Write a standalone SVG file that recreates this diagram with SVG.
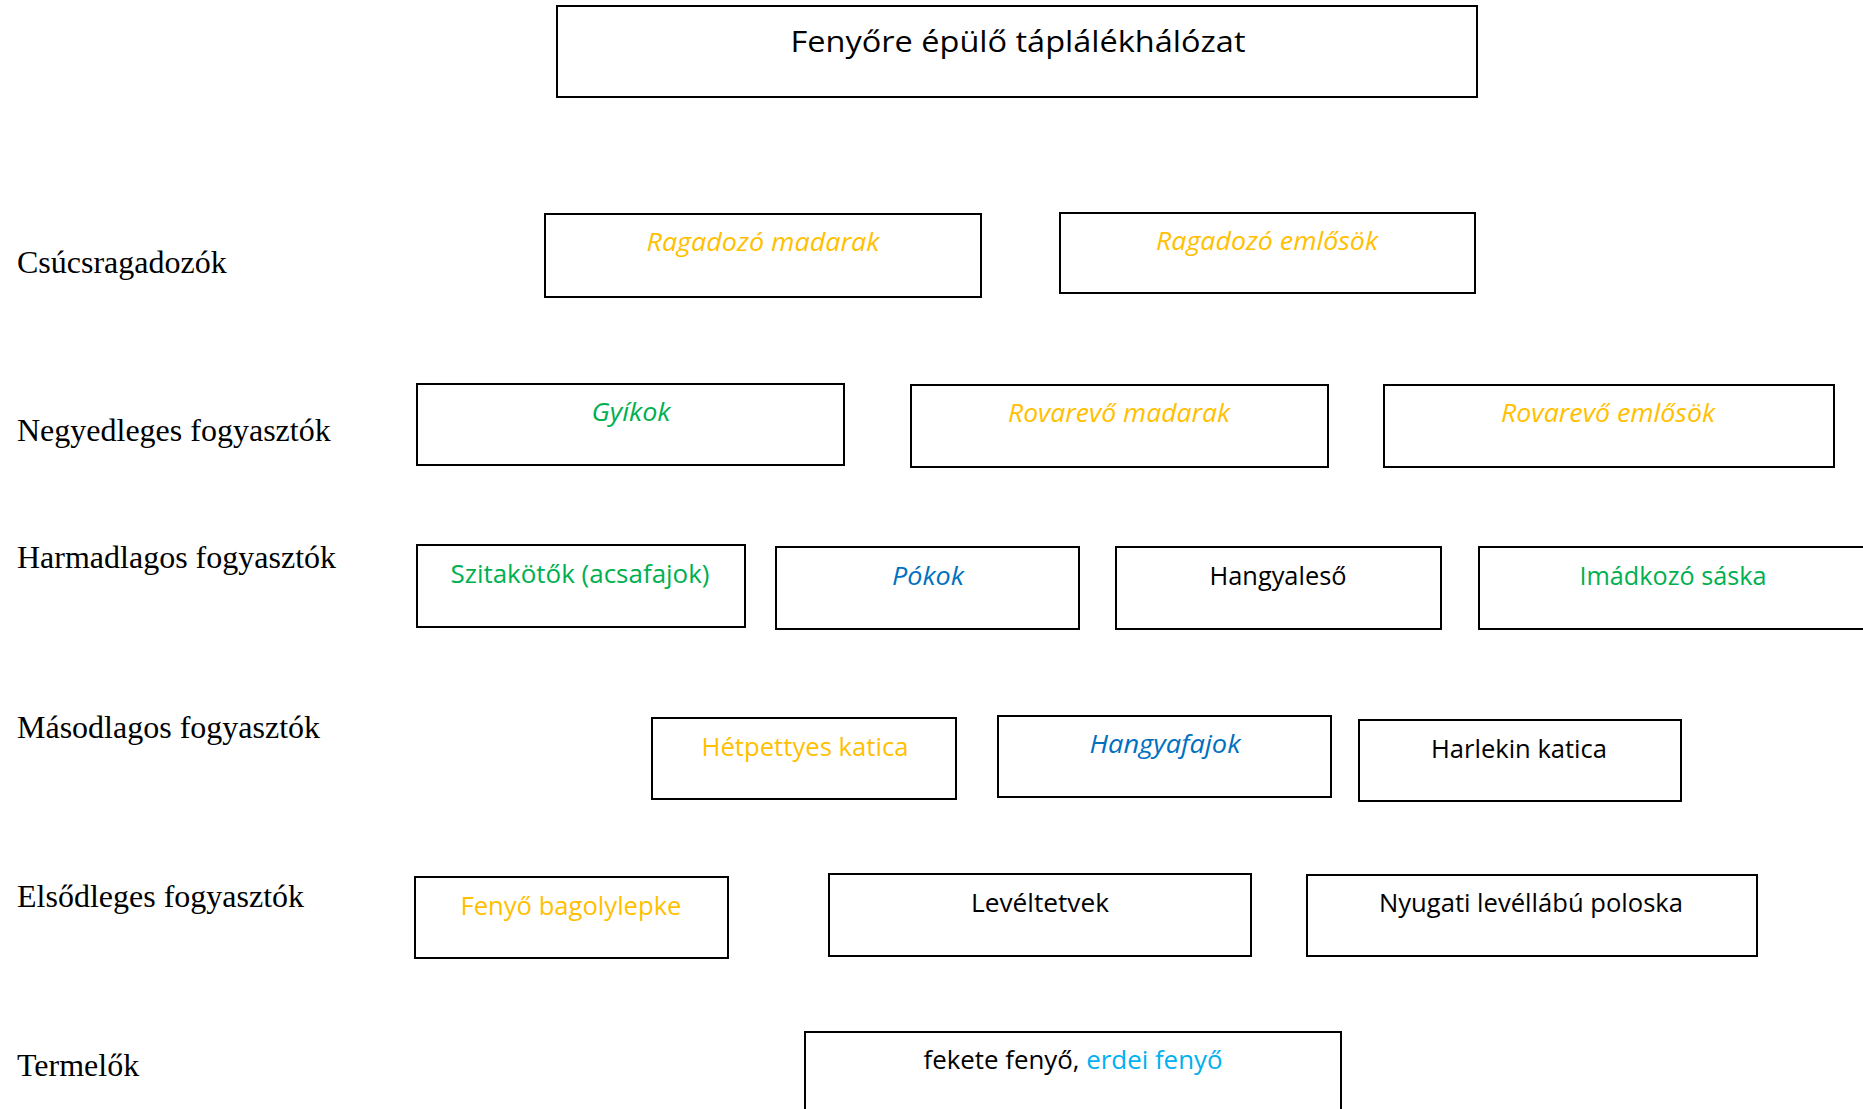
<svg xmlns="http://www.w3.org/2000/svg" width="1863" height="1109" viewBox="0 0 1863 1109">
<style>
  .box { fill: #ffffff; stroke: #000000; stroke-width: 2; }
  .lvl { font-family: "Liberation Serif", "Times New Roman", serif; font-size: 32px; fill: #000000; }
  .t { font-family: "Open Sans", "Noto Sans", sans-serif; font-size: 25px; text-anchor: middle; }
  .title { font-family: "Open Sans", "Noto Sans", sans-serif; font-size: 30px; text-anchor: middle; fill: #000000; }
  .i { font-style: italic; }
  .or { fill: #FFC000; }
  .gr { fill: #00B050; }
  .bl { fill: #0070C0; }
  .lb { fill: #00B0F0; }
  .bk { fill: #000000; }
</style>
<rect width="1863" height="1109" fill="#ffffff"/>

<g id="title">
  <rect class="box" x="557" y="6" width="920" height="91"/>
  <text class="title" x="1018" y="52" textLength="455" lengthAdjust="spacingAndGlyphs">Fenyőre épülő táplálékhálózat</text>
</g>

<g id="levels">
  <text class="lvl" x="17" y="273">Csúcsragadozók</text>
  <text class="lvl" x="17" y="441">Negyedleges fogyasztók</text>
  <text class="lvl" x="17" y="568">Harmadlagos fogyasztók</text>
  <text class="lvl" x="17" y="738">Másodlagos fogyasztók</text>
  <text class="lvl" x="17" y="907">Elsődleges fogyasztók</text>
  <text class="lvl" x="17" y="1076">Termelők</text>
</g>

<g id="connectors"></g>

<g id="ragadozo-madarak">
  <rect class="box" x="545" y="214" width="436" height="83"/>
  <text class="t i or" x="763" y="251" textLength="233" lengthAdjust="spacingAndGlyphs">Ragadozó madarak</text>
</g>
<g id="ragadozo-emlosok">
  <rect class="box" x="1060" y="213" width="415" height="80"/>
  <text class="t i or" x="1267" y="250" textLength="222" lengthAdjust="spacingAndGlyphs">Ragadozó emlősök</text>
</g>

<g id="gyikok">
  <rect class="box" x="417" y="384" width="427" height="81"/>
  <text class="t i gr" x="631" y="421" textLength="79" lengthAdjust="spacingAndGlyphs">Gyíkok</text>
</g>
<g id="rovarevo-madarak">
  <rect class="box" x="911" y="385" width="417" height="82"/>
  <text class="t i or" x="1119" y="422" textLength="222" lengthAdjust="spacingAndGlyphs">Rovarevő madarak</text>
</g>
<g id="rovarevo-emlosok">
  <rect class="box" x="1384" y="385" width="450" height="82"/>
  <text class="t i or" x="1608" y="422" textLength="214" lengthAdjust="spacingAndGlyphs">Rovarevő emlősök</text>
</g>

<g id="szitakotok">
  <rect class="box" x="417" y="545" width="328" height="82"/>
  <text class="t gr" x="580" y="583" textLength="259" lengthAdjust="spacingAndGlyphs">Szitakötők (acsafajok)</text>
</g>
<g id="pokok">
  <rect class="box" x="776" y="547" width="303" height="82"/>
  <text class="t i bl" x="928" y="585" textLength="72" lengthAdjust="spacingAndGlyphs">Pókok</text>
</g>
<g id="hangyaleso">
  <rect class="box" x="1116" y="547" width="325" height="82"/>
  <text class="t bk" x="1278" y="585" textLength="137" lengthAdjust="spacingAndGlyphs">Hangyaleső</text>
</g>
<g id="imadkozo-saska">
  <rect class="box" x="1479" y="547" width="400" height="82"/>
  <text class="t gr" x="1673" y="585" textLength="187" lengthAdjust="spacingAndGlyphs">Imádkozó sáska</text>
</g>

<g id="hetpettyes-katica">
  <rect class="box" x="652" y="718" width="304" height="81"/>
  <text class="t or" x="805" y="756" textLength="207" lengthAdjust="spacingAndGlyphs">Hétpettyes katica</text>
</g>
<g id="hangyafajok">
  <rect class="box" x="998" y="716" width="333" height="81"/>
  <text class="t i bl" x="1165" y="753" textLength="151" lengthAdjust="spacingAndGlyphs">Hangyafajok</text>
</g>
<g id="harlekin-katica">
  <rect class="box" x="1359" y="720" width="322" height="81"/>
  <text class="t bk" x="1519" y="758" textLength="176" lengthAdjust="spacingAndGlyphs">Harlekin katica</text>
</g>

<g id="fenyo-bagolylepke">
  <rect class="box" x="415" y="877" width="313" height="81"/>
  <text class="t or" x="571" y="915" textLength="221" lengthAdjust="spacingAndGlyphs">Fenyő bagolylepke</text>
</g>
<g id="leveltetvek">
  <rect class="box" x="829" y="874" width="422" height="82"/>
  <text class="t bk" x="1040" y="912" textLength="138" lengthAdjust="spacingAndGlyphs">Levéltetvek</text>
</g>
<g id="nyugati-levellabu-poloska">
  <rect class="box" x="1307" y="875" width="450" height="81"/>
  <text class="t bk" x="1531" y="912" textLength="304" lengthAdjust="spacingAndGlyphs">Nyugati levéllábú poloska</text>
</g>

<g id="fenyok">
  <rect class="box" x="805" y="1032" width="536" height="90"/>
  <text class="t" x="1073" y="1069" textLength="299" lengthAdjust="spacingAndGlyphs"><tspan class="bk">fekete fenyő, </tspan><tspan class="lb">erdei fenyő</tspan></text>
</g>
</svg>
